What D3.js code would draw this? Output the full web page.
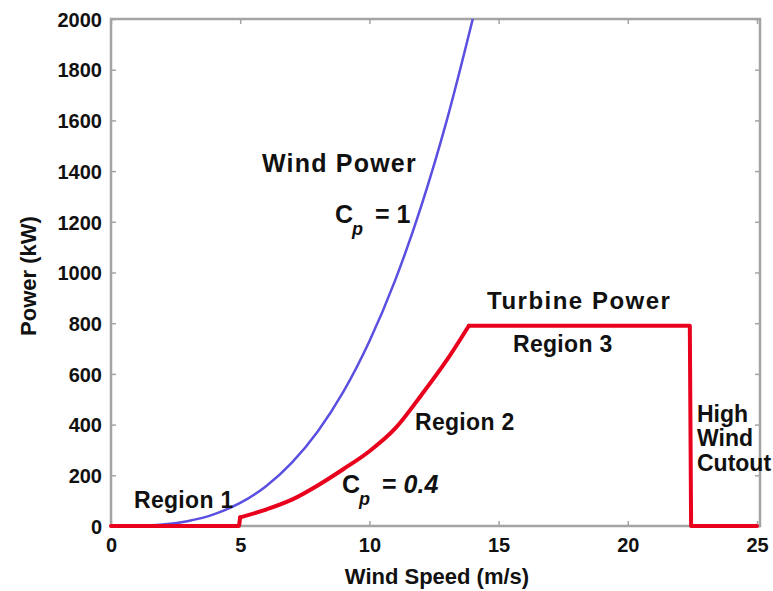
<!DOCTYPE html>
<html>
<head>
<meta charset="utf-8">
<script src="https://cdn.jsdelivr.net/npm/d3@7"></script>
<style>
  body { margin: 0; background: #fff; }
  text { font-family: "Liberation Sans", Arial, sans-serif; font-weight: bold; fill: #111; }
</style>
</head>
<body>
<svg></svg>
<script>
// wind speed (m/s) and available wind power (kW), Cp = 1
const windSpeed = [0, 1, 2, 3, 4, 5, 6, 7, 8, 9, 10, 11, 12, 13, 14];
const windPower = [0, 1, 6, 20, 47, 91, 157, 250, 373, 531, 729, 970, 1260, 1602, 2000];

// turbine power curve (kW)
const turbineSpeed = [0, 4.95, 5, 6, 7, 8, 9, 10, 11, 12, 13, 13.85, 22.4, 22.45, 25];
const turbinePower = [0, 0, 34, 65, 104, 160, 225, 295, 385, 515, 655, 790, 790, 0, 0];

const xTicks = [0, 5, 10, 15, 20, 25];
const yTicks = [0, 200, 400, 600, 800, 1000, 1200, 1400, 1600, 1800, 2000];

const width = 773, height = 591;
const svg = d3.select("svg").attr("width", width).attr("height", height);

const x = d3.scaleLinear().domain([0, 25]).range([111, 757]);
const y = d3.scaleLinear().domain([0, 2000]).range([526, 19]);

const axisColor = "#a4a4a4";
const fmt = d3.format("d");

// box
svg.append("path")
    .attr("d", `M${x(0)},${y(0)}V${y(2000)}H${x(25) + 3}V${y(0)}Z`)
    .attr("fill", "none")
    .attr("stroke", axisColor)
    .attr("stroke-width", 2.5);

// ticks inside, on all four sides
const xAxis = svg.append("g").attr("transform", `translate(0,${y(0)})`)
    .call(d3.axisBottom(x).tickValues(xTicks).tickFormat(fmt).tickSize(-5).tickPadding(14));
const yAxis = svg.append("g").attr("transform", `translate(${x(0)},0)`)
    .call(d3.axisLeft(y).tickValues(yTicks).tickFormat(fmt).tickSize(-5).tickPadding(9));
const xTop = svg.append("g").attr("transform", `translate(0,${y(2000)})`)
    .call(d3.axisTop(x).tickValues(xTicks).tickFormat("").tickSize(-5));
const yRight = svg.append("g").attr("transform", `translate(${x(25) + 3},0)`)
    .call(d3.axisRight(y).tickValues(yTicks).tickFormat("").tickSize(-5));

[xAxis, yAxis, xTop, yRight].forEach(a => {
    a.select(".domain").remove();
    a.selectAll(".tick line").attr("stroke", axisColor).attr("stroke-width", 1.5);
    a.selectAll(".tick text")
        .attr("font-size", 20)
        .attr("font-family", "Liberation Sans, Arial, sans-serif")
        .attr("font-weight", "bold")
        .attr("fill", "#111");
});
yAxis.selectAll(".tick text").attr("dy", "0.36em");
xAxis.selectAll(".tick text").attr("dy", "0.6em");

const pts = d3.zip(turbineSpeed, turbinePower);

svg.append("path")
    .datum(d3.zip(windSpeed, windPower))
    .attr("d", d3.line().x(d => x(d[0])).y(d => y(d[1])).curve(d3.curveMonotoneX))
    .attr("fill", "none")
    .attr("stroke", "#5a4fe0")
    .attr("stroke-width", 2.5);

// turbine curve: straight steps, smooth ramp in region 2
const redParts = [
    [pts.slice(0, 3), d3.curveLinear],
    [pts.slice(2, 12), d3.curveMonotoneX],
    [pts.slice(11), d3.curveLinear]
];
redParts.forEach(([seg, c]) => {
    svg.append("path")
        .datum(seg)
        .attr("d", d3.line().x(d => x(d[0])).y(d => y(d[1])).curve(c))
        .attr("fill", "none")
        .attr("stroke", "#e8001c")
        .attr("stroke-width", 4)
        .attr("stroke-linejoin", "round")
        .attr("stroke-linecap", "round");
});

// axis titles
svg.append("text").attr("x", 437).attr("y", 584)
    .attr("text-anchor", "middle").attr("font-size", 22)
    .text("Wind Speed (m/s)");
svg.append("text")
    .attr("transform", "translate(36,276) rotate(-90)")
    .attr("text-anchor", "middle").attr("font-size", 22)
    .text("Power (kW)");

// annotations
const ann = (tx, ty, s, size, ls) => svg.append("text").attr("x", tx).attr("y", ty)
    .attr("font-size", size).attr("letter-spacing", ls || 0).text(s);

ann(262, 172, "Wind Power", 25, 1.2);
ann(487, 309, "Turbine Power", 24, 1.5);
ann(513, 352, "Region 3", 23, 0.3);
ann(415, 430, "Region 2", 23, 0.3);
ann(134, 508, "Region 1", 23, 0.3);
ann(697, 422, "High", 23);
ann(697, 446, "Wind", 23);
ann(697, 471, "Cutout", 23);

const cp = (tx, ty, val, italic) => {
    const t = svg.append("text").attr("x", tx).attr("y", ty).attr("font-size", 25);
    t.append("tspan").text("C");
    t.append("tspan").attr("font-size", 18).attr("font-style", "italic")
        .attr("dy", 12).attr("dx", -1).text("p");
    t.append("tspan").attr("dy", -12).attr("dx", 12).text("= ");
    t.append("tspan").attr("font-style", italic ? "italic" : "normal").text(val);
};
cp(335, 223, "1", false);
cp(342, 493, "0.4", true);
</script>
</body>
</html>
